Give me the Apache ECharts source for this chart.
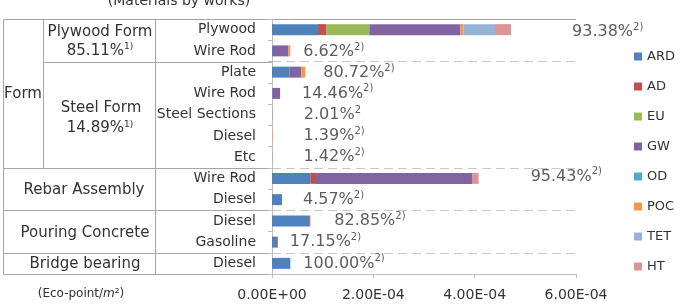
<!DOCTYPE html>
<html>
<head>
<meta charset="utf-8">
<script src="https://cdn.jsdelivr.net/npm/echarts@6/dist/echarts.min.js"></script>
<style>
  html, body { margin: 0; padding: 0; background: #fff; }
  #chart { width: 682px; height: 305px; }
</style>
</head>
<body>
<div id="chart"></div>
<script>
// material rows, top to bottom
const materials = ["Plywood", "Wire Rod", "Plate", "Wire Rod", "Steel Sections", "Diesel", "Etc",
  "Wire Rod", "Diesel", "Diesel", "Gasoline", "Diesel"];
const seriesNames = ["ARD", "AD", "EU", "GW", "OD", "POC", "TET", "HT"];

// Eco-point/m2 per impact category
const ARD = [9.08e-5, 0.2e-5, 3.42e-5, 0.1e-5, 0, 0, 0, 7.56e-5, 1.97e-5, 7.36e-5, 1.0e-5, 3.61e-5];
const AD  = [1.58e-5, 0, 0, 0, 0, 0, 0, 1.12e-5, 0, 0.2e-5, 0.15e-5, 0];
const EU  = [8.55e-5, 0, 0, 0, 0, 0, 0, 0, 0, 0, 0, 0];
const GW  = [17.96e-5, 3.0e-5, 2.37e-5, 1.5e-5, 0, 0, 0, 30.79e-5, 0, 0, 0, 0];
const OD  = [0, 0, 0, 0, 0, 0, 0, 0, 0, 0, 0, 0];
const POC = [0.59e-5, 0.4e-5, 0.79e-5, 0, 0, 0.11e-5, 0, 0, 0, 0, 0, 0];
const TET = [6.26e-5, 0, 0, 0, 0, 0, 0, 0, 0, 0, 0, 0];
const HT  = [3.16e-5, 0, 0, 0, 0.16e-5, 0, 0.12e-5, 1.32e-5, 0, 0, 0, 0];

const shares = ["93.38%", "6.62%", "80.72%", "14.46%", "2.01%", "1.39%", "1.42%",
  "95.43%", "4.57%", "82.85%", "17.15%", "100.00%"];
const shareNotes = ["2)", "2)", "2)", "2)", "2", "2)", "2)", "2)", "2)", "2)", "2)", "2)"];

const xTicks = ["0.00E+00", "2.00E-04", "4.00E-04", "6.00E-04"];

const colors = ["#4F81BD", "#C0504D", "#9BBB59", "#8064A2", "#4BACC6", "#F79646", "#95B3D7", "#D99694"];

// where each share label sits, px past the bar end
const labelGap = [[61, 2], [13, 1], [18, 1], [22, 0], [31, 0], [31, 0], [31, 0], [52, -2], [21, 0], [24, 0], [12, 0], [13, 0]];

const font = "DejaVu Sans";
const textColor = "#333";
const lineColor = "#a6a6a6";

const valueSets = [ARD, AD, EU, GW, OD, POC, TET, HT];
const totals = materials.map((_, i) => valueSets.reduce((s, arr) => s + arr[i], 0));

const chart = echarts.init(document.getElementById("chart"));

const barSeries = seriesNames.map((name, k) => ({
  name: name,
  type: "bar",
  stack: "total",
  barWidth: 11,
  itemStyle: { color: colors[k] },
  data: valueSets[k],
}));

const labelSeries = {
  name: "share",
  type: "scatter",
  symbolSize: 0,
  silent: true,
  data: totals.map((t, i) => ({ value: [t, i], label: { offset: labelGap[i] } })),
  label: {
    show: true,
    position: "right",
    distance: 0,
    formatter: (p) => `{v|${shares[p.dataIndex]}}{s|${shareNotes[p.dataIndex]}}`,
    rich: {
      v: { fontFamily: font, fontSize: 16, color: textColor },
      s: { fontFamily: font, fontSize: 10, color: textColor, padding: [0, 0, 9, 0] },
    },
  },
};

chart.setOption({
  animation: false,
  color: colors,
  grid: { left: 272, right: 106, top: 19, bottom: 31, outerBoundsMode: "none" },
  legend: {
    data: seriesNames,
    orient: "vertical",
    left: 629,
    top: 45,
    itemWidth: 8,
    itemHeight: 8,
    itemGap: 17,
    icon: "rect",
    textStyle: { fontFamily: font, fontSize: 13, color: textColor },
  },
  xAxis: {
    type: "value",
    min: 0,
    max: 6e-4,
    interval: 2e-4,
    axisLine: { show: true, lineStyle: { color: "#bfbfbf" } },
    axisTick: { show: true, length: 4, lineStyle: { color: "#bfbfbf" } },
    splitLine: { show: false },
    axisLabel: {
      fontFamily: font,
      fontSize: 14,
      color: textColor,
      margin: 14,
      formatter: (v) => xTicks[Math.round(v / 2e-4)],
    },
  },
  yAxis: {
    type: "category",
    inverse: true,
    data: materials,
    axisLine: { show: true, lineStyle: { color: "#bfbfbf" } },
    axisTick: { show: true, length: 4, interval: 0, lineStyle: { color: "#bfbfbf" } },
    axisLabel: { fontFamily: font, fontSize: 14, color: textColor, margin: 16, interval: 0 },
    splitLine: {
      show: true,
      interval: (i) => [2, 7, 9, 11].includes(i),
      lineStyle: { color: "#c8c8c8", type: [9, 5] },
    },
  },
  series: [...barSeries, labelSeries],
});

// table on the left, lined up with the category rows
const yc = (i) => chart.convertToPixel({ yAxisIndex: 0 }, i);
const band = yc(1) - yc(0);
const yb = (i) => Math.round(yc(i) - band / 2) + 0.5;
const yEnd = Math.round(yc(materials.length - 1) + band / 2) + 0.5;
const xL = 3.5, xC1 = 43.5, xC2 = 155.5, xR = 272;

function hline(x1, x2, y) {
  return { type: "line", silent: true, shape: { x1: x1, y1: y, x2: x2, y2: y }, style: { stroke: lineColor, lineWidth: 1 } };
}
function vline(x, y1, y2) {
  return { type: "line", silent: true, shape: { x1: x, y1: y1, x2: x, y2: y2 }, style: { stroke: lineColor, lineWidth: 1 } };
}
const richNote = {
  v: { fontFamily: font, fontSize: 15, fill: textColor },
  s: { fontFamily: font, fontSize: 9, fill: textColor, padding: [0, 0, 8, 0] },
};
function label(text, x, y, size) {
  return {
    type: "text", silent: true,
    style: { text: text, x: x, y: y, align: "center", verticalAlign: "middle",
      fontFamily: font, fontSize: size || 15, fill: textColor, rich: richNote },
  };
}

const yTop = yb(0), r2 = yb(2), r7 = yb(7), r9 = yb(9), r11 = yb(11);

chart.setOption({
  graphic: [
    hline(xL, 576, yTop),
    hline(xC1, xR, r2),
    hline(xL, xR, r7),
    hline(xL, xR, r9),
    hline(xL, xR, r11),
    hline(xL, xR, yEnd),
    vline(xL, yTop, yEnd),
    vline(xC1, yTop, r7),
    vline(xC2, yTop, yEnd),
    label("(Materials by works)", 179, 1, 14),
    label("Form", 23, (yTop + r7) / 2),
    label("Plywood Form", 100, yc(0) + 2),
    label("{v|85.11%}{s|1)}", 100, yc(1)),
    label("Steel Form", 101, (r2 + r7) / 2 - 7),
    label("{v|14.89%}{s|1)}", 100, (r2 + r7) / 2 + 13),
    label("Rebar Assembly", 84, (r7 + r9) / 2 + 1),
    label("Pouring Concrete", 85, (r9 + r11) / 2 + 1),
    label("Bridge bearing", 85, (r11 + yEnd) / 2),
    {
      type: "text", silent: true,
      style: {
        text: "{a|(Eco-point/}{m|m}{b|²)}", x: 81, y: 294, align: "center", verticalAlign: "middle",
        rich: {
          a: { fontFamily: font, fontSize: 12, fill: textColor },
          m: { fontFamily: font, fontSize: 12, fontStyle: "italic", fill: textColor },
          b: { fontFamily: font, fontSize: 12, fill: textColor },
        },
      },
    },
  ],
});

window.addEventListener("resize", () => chart.resize());
</script>
</body>
</html>
